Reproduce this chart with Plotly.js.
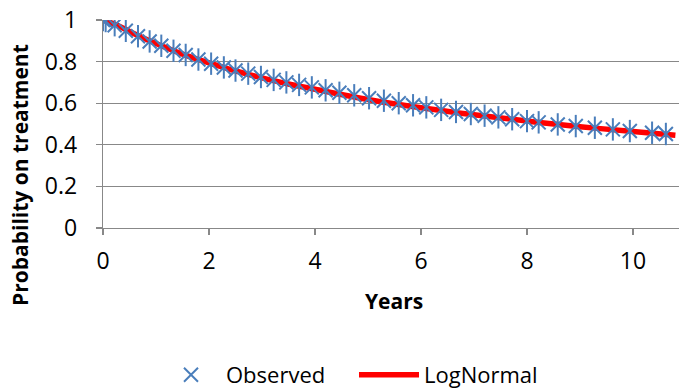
<!DOCTYPE html>
<html>
<head>
<meta charset="utf-8">
<script src="https://cdn.plot.ly/plotly-3.0.1.min.js"></script>
<style>
html,body{margin:0;padding:0;background:#fff;}
#chart{width:679px;height:388px;}
</style>
</head>
<body>
<div id="chart"></div>
<script>
// Observed points (years, probability)
const obsYears = [0, 0.05, 0.22, 0.43, 0.66, 0.88, 1.10, 1.33, 1.56, 1.80, 2.04, 2.28, 2.50, 2.74, 2.98, 3.22, 3.46, 3.70, 3.94, 4.20, 4.46, 4.74, 5.02, 5.30, 5.58, 5.85, 6.10, 6.38, 6.66, 6.94, 7.20, 7.46, 7.72, 8.00, 8.22, 8.58, 8.92, 9.28, 9.62, 9.94, 10.36, 10.62];
const obsProb  = [1.0, 0.995, 0.975, 0.948, 0.922, 0.897, 0.876, 0.852, 0.832, 0.810, 0.790, 0.772, 0.757, 0.742, 0.726, 0.712, 0.700, 0.688, 0.676, 0.662, 0.650, 0.638, 0.624, 0.612, 0.600, 0.590, 0.580, 0.568, 0.558, 0.548, 0.540, 0.532, 0.523, 0.514, 0.508, 0.498, 0.490, 0.482, 0.474, 0.466, 0.458, 0.452];
// Fitted LogNormal curve
const fitYears = [0, 0.25, 0.5, 0.75, 1, 1.5, 2, 2.5, 3, 3.5, 4, 5, 6, 7, 8, 9, 10, 10.8];
const fitProb  = [1.0, 0.977, 0.945, 0.915, 0.887, 0.836, 0.794, 0.755, 0.722, 0.692, 0.667, 0.618, 0.578, 0.544, 0.514, 0.487, 0.464, 0.446];
const xTicks = [0, 2, 4, 6, 8, 10];
const yTicks = [0, 0.2, 0.4, 0.6, 0.8, 1];
const seriesNames = ['Observed', 'LogNormal'];

const blue = '#4A7EBB';
const red = '#FF0000';
const grid = '#888888';
const font = '"Open Sans", "Noto Sans", sans-serif';

const traces = [
  {
    x: fitYears, y: fitProb, type: 'scatter', mode: 'lines', name: seriesNames[1],
    line: {color: red, width: 5.5, shape: 'spline'}, legendrank: 2
  },
  {
    x: obsYears, y: obsProb, type: 'scatter', mode: 'markers', name: seriesNames[0],
    marker: {symbol: 'x-thin-open', size: 14, color: blue, line: {color: blue, width: 2}},
    legendrank: 1
  },
  {
    x: obsYears, y: obsProb, type: 'scatter', mode: 'markers', name: seriesNames[0],
    showlegend: false, hoverinfo: 'skip',
    marker: {symbol: 'line-ns-open', size: 16, color: blue, line: {color: blue, width: 2}}
  }
];

const layout = {
  width: 679, height: 388,
  margin: {l: 103, r: 0, t: 20, b: 160, pad: 0},
  paper_bgcolor: '#fff', plot_bgcolor: '#fff',
  font: {family: font, size: 23, color: '#000'},
  showlegend: true,
  xaxis: {
    range: [0, 10.868], tickvals: xTicks, ticktext: xTicks.map(String),
    showgrid: false, zeroline: false, showline: true, linecolor: grid, linewidth: 1.3,
    ticks: 'outside', ticklen: 6, tickcolor: grid, tickwidth: 1.3, automargin: false,
    tickfont: {family: font, size: 23, color: '#000'}, ticklabelstandoff: 6
  },
  yaxis: {
    range: [0, 1], tickvals: yTicks, ticktext: yTicks.map(String),
    showgrid: true, gridcolor: grid, gridwidth: 1.3, zeroline: false,
    showline: true, linecolor: grid, linewidth: 1.3, automargin: false,
    ticks: 'outside', ticklen: 6, tickcolor: grid, tickwidth: 1.3,
    tickfont: {family: font, size: 23, color: '#000'}, ticklabelstandoff: 14
  },
  legend: {
    orientation: 'h', xref: 'container', yref: 'container',
    x: 156 / 679, xanchor: 'left', y: (388 - 375) / 388, yanchor: 'middle',
    font: {family: font, size: 22, color: '#000'}, itemwidth: 60,
    entrywidth: 123, entrywidthmode: 'pixels',
    bgcolor: 'rgba(0,0,0,0)', traceorder: 'normal'
  },
  annotations: [
    {text: '<b>Probability on treatment</b>', xref: 'paper', yref: 'paper',
     x: -83/576, y: (228 - 175) / 208, xanchor: 'center', yanchor: 'middle', textangle: -90,
     showarrow: false, font: {family: font, size: 21, color: '#000'}},
    {text: '<b>Years</b>', xref: 'paper', yref: 'paper',
     x: (394 - 103) / 576, y: (228 - 301) / 208, xanchor: 'center', yanchor: 'middle',
     showarrow: false, font: {family: font, size: 21, color: '#000'}}
  ]
};

Plotly.newPlot('chart', traces, layout, {displayModeBar: false, staticPlot: true});
</script>
</body>
</html>
